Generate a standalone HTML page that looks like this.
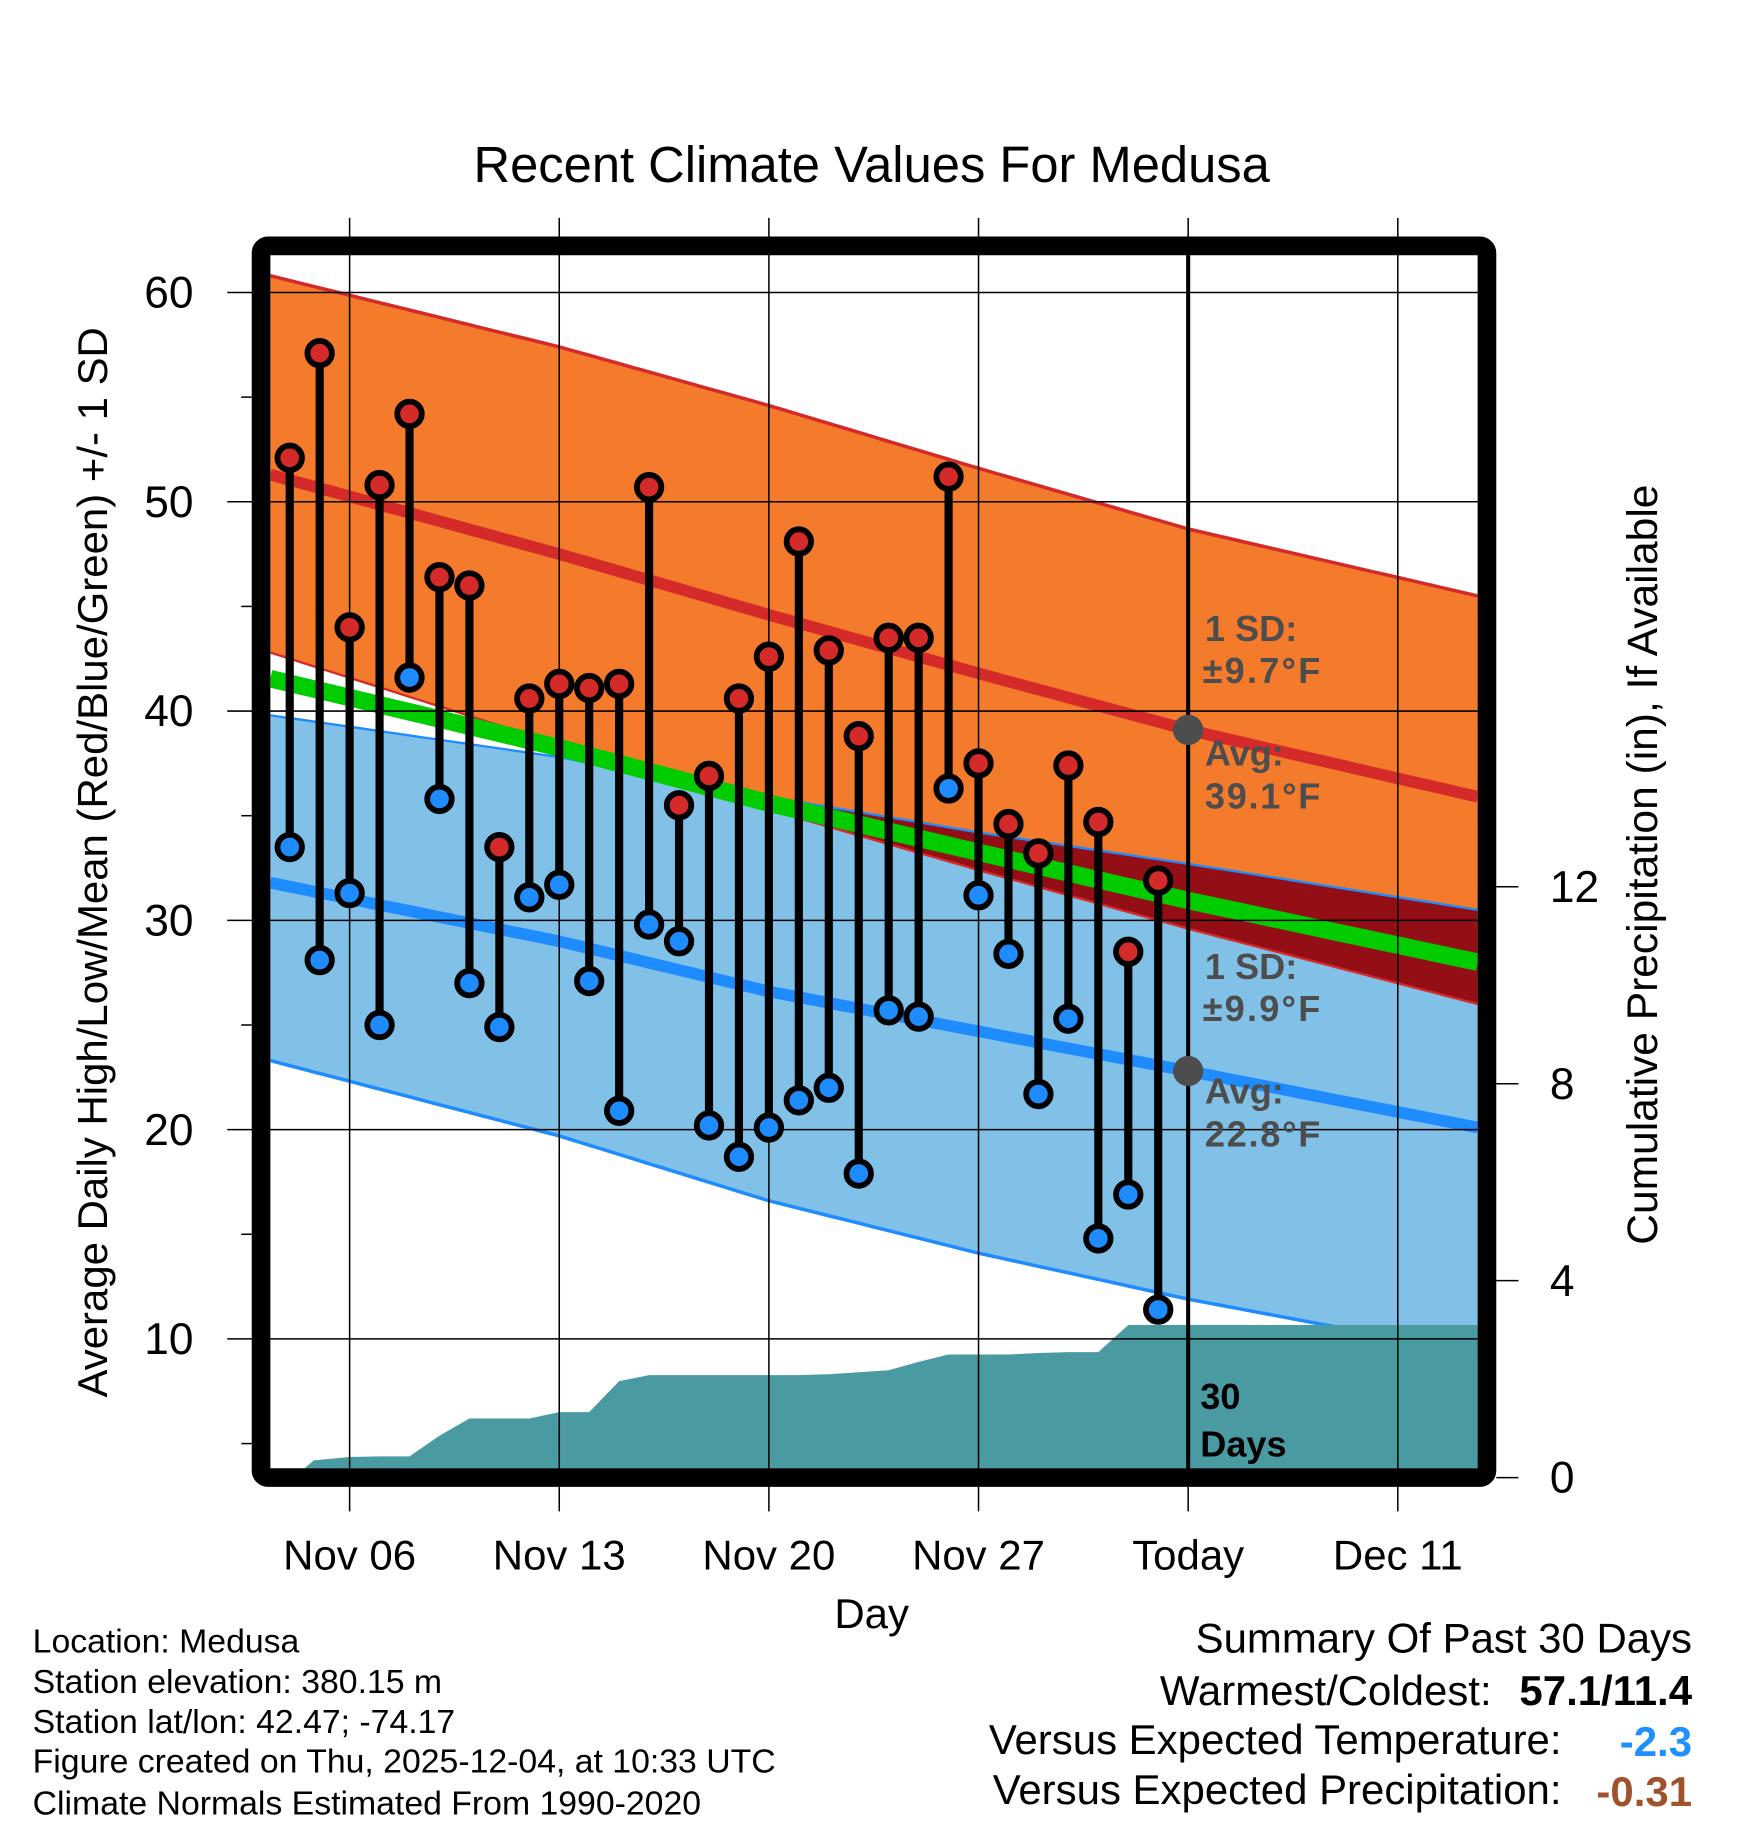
<!DOCTYPE html>
<html><head><meta charset="utf-8"><style>
html,body{margin:0;padding:0;background:#fff;}
svg{display:block;font-family:"Liberation Sans",sans-serif;}
</style></head><body>
<svg id="chart" width="1748" height="1828" viewBox="0 0 1500 1568.7" xmlns="http://www.w3.org/2000/svg">
<g id="bands"></g>
<g id="precip"></g>
<g id="grid"></g>
<g id="marks"></g>
<g id="ann"></g>
<g id="axes"></g>
</svg>
<script>
const highs=[52.1,57.1,44.0,50.8,54.2,46.4,46.0,33.5,40.6,41.3,41.1,41.3,50.7,35.5,36.9,40.6,42.6,48.1,42.9,38.8,43.5,43.5,51.2,37.5,34.6,33.2,37.4,34.7,28.5,31.9];
const lows=[33.5,28.1,31.3,25.0,41.6,35.8,27.0,24.9,31.1,31.7,27.1,20.9,29.8,29.0,20.2,18.7,20.1,21.4,22.0,17.9,25.7,25.4,36.3,31.2,28.4,21.7,25.3,14.8,16.9,11.4];
const firstDay=4;
const normDays=[3.35,13,20,27,34,43.67];
const normHigh=[51.3,47.5,44.6,41.8,39.1,35.9];
const upperHigh=[60.8,57.4,54.6,51.6,48.7,45.5];
const lowerHigh=[42.8,38.4,35.3,32.4,29.6,26.0];
const normLow=[31.8,29.0,26.6,24.7,22.8,20.1];
const upperLow=[39.8,37.8,35.9,34.2,32.7,30.5];
const lowerLow=[23.3,19.7,16.6,14.1,11.9,9.3];
const precipDays=[3.35,4,4.5,4.8,6,7,8,9,10,11,12,13,14,15,16,17,18,19,20,21,22,23,24,25,26,27,28,29,30,31,32,33,43.67];
const precip=[0,0,0,0.35,0.42,0.43,0.43,0.85,1.2,1.2,1.2,1.33,1.33,1.96,2.08,2.08,2.08,2.08,2.08,2.08,2.1,2.14,2.18,2.35,2.5,2.5,2.5,2.53,2.55,2.55,3.1,3.1,3.1];
const yTicks=[10,20,30,40,50,60];
const pTicks=[0,4,8,12];
const xTickDays=[6,13,20,27,34,41];
const xTickLabels=["Nov 06","Nov 13","Nov 20","Nov 27","Today","Dec 11"];

const NS="http://www.w3.org/2000/svg";
const L=232,R=1268,T=219,B=1260;
const X=d=>300+(d-6)*25.7;
const Y=v=>251+(60-v)*17.96;
const P=p=>1268-p*42.25;
function el(tag,attrs,parent,text){const e=document.createElementNS(NS,tag);for(const k in attrs)e.setAttribute(k,attrs[k]);if(text!==undefined)e.textContent=text;parent.appendChild(e);return e;}
function interp(arr,d){for(let i=0;i<normDays.length-1;i++){if(d<=normDays[i+1]){const t=(d-normDays[i])/(normDays[i+1]-normDays[i]);return arr[i]+t*(arr[i+1]-arr[i]);}}return arr[arr.length-1];}
const samples=[];for(let i=0;i<=80;i++)samples.push(normDays[0]+(normDays[5]-normDays[0])*i/80);
function line(arr){return samples.map(d=>X(d).toFixed(1)+","+Y(interp(arr,d)).toFixed(1)).join(" ");}
function band(a,b){return samples.map(d=>X(d).toFixed(1)+","+Y(interp(a,d)).toFixed(1)).concat(samples.slice().reverse().map(d=>X(d).toFixed(1)+","+Y(interp(b,d)).toFixed(1))).join(" ");}
const bands=document.getElementById('bands');
el('clipPath',{id:'pc'},bands);
el('rect',{x:L,y:T,width:R-L,height:B-T},document.getElementById('pc'));
bands.setAttribute('clip-path','url(#pc)');
let e;
e=el('polygon',{points:band(upperLow,lowerLow),fill:'#82c1e7'},bands);

e=el('polygon',{points:band(upperHigh,lowerHigh),fill:'#f47a2c'},bands);

const ovTop=samples.map(d=>Math.min(interp(upperLow,d),interp(upperHigh,d)));
const ovBot=samples.map((d,i)=>Math.min(ovTop[i],Math.max(interp(lowerHigh,d),interp(lowerLow,d))));
const ovPts=samples.map((d,i)=>X(d).toFixed(1)+","+Y(ovTop[i]).toFixed(1)).concat(samples.map((d,i)=>X(d).toFixed(1)+","+Y(ovBot[i]).toFixed(1)).reverse()).join(" ");
e=el('polygon',{points:ovPts,fill:'#940e16'},bands);

e=el('polyline',{points:line(upperHigh),fill:'none',stroke:'#d42a2a','stroke-width':3},bands);

e=el('polyline',{points:line(lowerHigh),fill:'none',stroke:'#d42a2a','stroke-width':2},bands);

e=el('polyline',{points:line(upperLow),fill:'none',stroke:'#1e8cff','stroke-width':2},bands);

e=el('polyline',{points:line(lowerLow),fill:'none',stroke:'#1e8cff','stroke-width':3},bands);

const meanArr=normHigh.map((v,i)=>(v+normLow[i])/2);
e=el('polyline',{points:line(meanArr),fill:'none',stroke:'#00cc00','stroke-width':15},bands);

e=el('polyline',{points:line(normHigh),fill:'none',stroke:'#d42a2a','stroke-width':10},bands);

e=el('polyline',{points:line(normLow),fill:'none',stroke:'#1e8cff','stroke-width':10},bands);

const pg=document.getElementById('precip');
const pp=precipDays.map((d,i)=>X(d).toFixed(1)+","+Math.min(B,P(precip[i])).toFixed(1));
e=el('polygon',{points:[X(precipDays[0])+","+B].concat(pp).concat([X(precipDays[precipDays.length-1])+","+B]).join(" "),fill:'#4a9aa2'},pg);

const g=document.getElementById('grid');
xTickDays.forEach(d=>{e=el('line',{x1:X(d),x2:X(d),y1:187,y2:1297,stroke:'#000','stroke-width':1.3},g);
});
yTicks.forEach(v=>{e=el('line',{x1:195,x2:R,y1:Y(v),y2:Y(v),stroke:'#000','stroke-width':1.3},g);
});
for(let v=5;v<=60;v+=10){e=el('line',{x1:207,x2:216,y1:Y(v),y2:Y(v),stroke:'#000','stroke-width':1.3},g);
}
pTicks.forEach(p=>{e=el('line',{x1:1284,x2:1303,y1:P(p),y2:P(p),stroke:'#000','stroke-width':1.3},g);
});
e=el('line',{x1:X(34),x2:X(34),y1:T,y2:B,stroke:'#000','stroke-width':3.5},g);

const m=document.getElementById('marks');
highs.forEach((h,i)=>{const x=X(firstDay+i);
e=el('line',{x1:x,x2:x,y1:Y(h),y2:Y(lows[i]),stroke:'#000','stroke-width':7},m);
});
highs.forEach((h,i)=>{const x=X(firstDay+i);
e=el('circle',{cx:x,cy:Y(h),r:10.5,fill:'#d42a2a',stroke:'#000','stroke-width':5},m);

e=el('circle',{cx:x,cy:Y(lows[i]),r:10.5,fill:'#1e8cff',stroke:'#000','stroke-width':5},m);
});
const a=document.getElementById('ann');
const tx=X(34);
e=el('circle',{cx:tx,cy:Y(39.1),r:13,fill:'#4d4d4d'},a);
e=el('circle',{cx:tx,cy:Y(22.8),r:13,fill:'#4d4d4d'},a);
function txt(x,y,s,attrs,name){const t=el('text',Object.assign({x:x,y:y},attrs),a,s);return t;}
const ga={'font-size':31,'font-weight':'bold',fill:'#4d4d4d'};
txt(1034,550,"1 SD:",ga,'high-sd-label');txt(1032,586,"±9.7°F",Object.assign({textLength:101},ga),'high-sd-value');
txt(1034,657,"Avg:",ga,'high-avg-label');txt(1034,694,"39.1°F",Object.assign({textLength:99},ga),'high-avg-value');
txt(1034,840,"1 SD:",ga,'low-sd-label');txt(1032,876,"±9.9°F",Object.assign({textLength:101},ga),'low-sd-value');
txt(1034,947,"Avg:",ga,'low-avg-label');txt(1034,984,"22.8°F",Object.assign({textLength:99},ga),'low-avg-value');
const ba={'font-size':31,'font-weight':'bold',fill:'#000'};
txt(1030,1209,"30",ba,'days-count');txt(1030,1250,"Days",ba,'days-label');
const ax=document.getElementById('axes');
e=el('rect',{x:224,y:211,width:1052,height:1057,fill:'none',stroke:'#000','stroke-width':16,rx:6},ax);

function at(x,y,s,attrs,name){const t=el('text',Object.assign({x:x,y:y},attrs),ax,s);return t;}
at(748,156,"Recent Climate Values For Medusa",{'font-size':43.5,'text-anchor':'middle'},'chart-title');
yTicks.forEach(v=>at(166,Y(v)+13,String(v),{'font-size':38,'text-anchor':'end'},'y-tick-label'));
pTicks.forEach(p=>at(1330,P(p)+13,String(p),{'font-size':38},'precip-tick-label'));
xTickDays.forEach((d,i)=>at(X(d),1347,xTickLabels[i],{'font-size':36,'text-anchor':'middle'},'x-tick-label'));
at(748,1397,"Day",{'font-size':36,'text-anchor':'middle'},'x-axis-title');
at(0,0,"Average Daily High/Low/Mean (Red/Blue/Green) +/- 1 SD",{'font-size':36,'text-anchor':'middle',transform:'translate(92,740) rotate(-90)'},'y-axis-title');
at(0,0,"Cumulative Precipitation (in), If Available",{'font-size':36.5,'text-anchor':'middle',transform:'translate(1422,742) rotate(-90)'},'precip-axis-title');
const info=["Location: Medusa","Station elevation: 380.15 m","Station lat/lon: 42.47; -74.17","Figure created on Thu, 2025-12-04, at 10:33 UTC","Climate Normals Estimated From 1990-2020"];
const iy=[1418,1453,1487,1521,1557];
info.forEach((s,i)=>at(28,iy[i],s,{'font-size':29},'station-info'));
at(1452,1418,"Summary Of Past 30 Days",{'font-size':36,'text-anchor':'end'},'summary-title');
at(1280,1463,"Warmest/Coldest:",{'font-size':36,'text-anchor':'end'},'warmest-label');
at(1452,1463,"57.1/11.4",{'font-size':36,'font-weight':'bold','text-anchor':'end'},'warmest-value');
at(1340,1505,"Versus Expected Temperature:",{'font-size':36,'text-anchor':'end'},'temp-anomaly-label');
at(1452,1507,"-2.3",{'font-size':36,'font-weight':'bold','text-anchor':'end',fill:'#1e90ff'},'temp-anomaly-value');
at(1340,1548,"Versus Expected Precipitation:",{'font-size':36,'text-anchor':'end'},'precip-anomaly-label');
at(1452,1550,"-0.31",{'font-size':36,'font-weight':'bold','text-anchor':'end',fill:'#a0522d'},'precip-anomaly-value');
</script>
</body></html>
